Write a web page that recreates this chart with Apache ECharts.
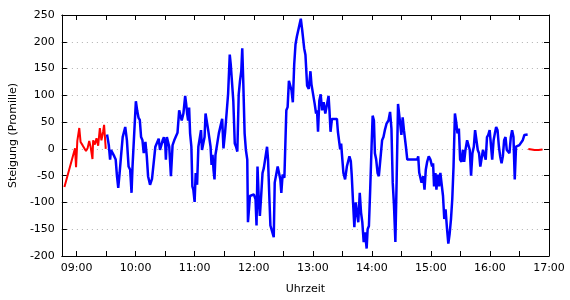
<!DOCTYPE html>
<html>
<head>
<meta charset="utf-8">
<script src="https://cdn.jsdelivr.net/npm/echarts@6/dist/echarts.min.js"></script>
<style>
  html, body { margin: 0; padding: 0; background: #fff; }
  #chart { width: 570px; height: 300px; }
</style>
</head>
<body>
<div id="chart"></div>
<script>
// Zeiten in Minuten seit Mitternacht, Werte in Promille
var red1Time = [527.6, 538.4, 539.4, 540.7, 542.7, 544.0, 546.0, 547.5, 549.5, 551.1, 552.8, 554.3, 556.1, 556.8, 558.5, 560.2, 561.9, 563.6, 565.2, 566.9, 567.9, 569.6]
var red1Value = [-71, 1, -34, 15, 39, 13, 7, 10, -4, 1, 15, 3, -19, 16, 8, 20, 6, 39, 16, 32, 45, 0]

var blueTime = [
  570.9, 572.7, 574.0, 575.0, 576.7, 578.3, 579.7, 581.0, 582.3, 583.7, 585.1, 586.8, 588.1, 589.4, 591.1, 592.8, 594.4, 595.8, 596.8, 597.9,
  599.2, 600.2, 601.5, 602.9, 604.2, 605.5, 606.9, 608.2, 609.9, 611.3, 612.6, 614.6, 616.6, 618.3, 620.0, 621.6, 623.4, 624.7, 626.1, 627.4,
  628.7, 630.1, 630.7, 631.7, 633.1, 634.1, 635.8, 637.5, 639.2, 640.8, 642.5, 644.2, 645.5, 646.8, 648.5, 650.3, 651.3, 652.3, 653.3, 654.3,
  655.3, 656.6, 657.6, 658.6, 659.9, 661.0, 662.4, 663.7, 665.0, 666.4, 667.4, 668.7, 670.0, 671.0, 672.4, 673.7, 675.1, 676.1, 677.1, 678.1,
  679.1, 680.1, 681.1, 682.8, 684.5, 686.1, 687.9, 689.2, 690.9, 692.6, 693.9, 695.6, 696.6, 697.9, 699.2, 700.7, 702.0, 703.3, 704.7, 706.0,
  707.3, 708.3, 709.3, 710.7, 712.0, 713.4, 714.1, 715.1, 716.1, 718.1, 720.1, 721.8, 722.8, 723.8, 725.2, 726.2, 727.5, 728.9, 730.2, 731.9,
  733.5, 734.5, 735.9, 736.9, 738.6, 740.3, 741.3, 743.0, 744.3, 745.6, 747.0, 748.0, 749.3, 751.1, 752.4, 753.1, 754.4, 755.7, 757.1, 758.4,
  759.7, 761.1, 762.4, 763.8, 765.2, 766.5, 767.8, 769.2, 770.2, 771.2, 772.5, 774.2, 775.9, 777.6, 778.6, 779.9, 781.9, 783.3, 784.3, 785.3,
  786.6, 788.0, 789.4, 791.0, 792.7, 794.4, 796.0, 797.0, 798.0, 799.4, 804.5, 805.5, 806.8, 807.8, 808.8, 809.5, 811.1, 812.8, 814.6, 815.9,
  817.2, 818.6, 819.6, 820.9, 822.2, 823.6, 824.9, 826.2, 827.7, 829.0, 830.3, 831.7, 833.0, 834.7, 835.7, 837.0, 838.3, 839.7, 840.8, 842.1,
  843.1, 844.4, 845.8, 847.1, 849.1, 850.4, 851.8, 853.2, 854.9, 856.9, 858.5, 859.9, 861.2, 862.5, 863.9, 865.2, 866.6, 868.6, 870.0, 871.3,
  872.6, 873.6, 874.6, 876.0, 886.1, 887.1, 888.1, 889.4, 890.5, 892.2, 893.5, 894.8, 896.2, 897.8, 899.5, 901.2, 902.2, 903.2, 904.6, 905.6,
  906.9, 908.3, 909.6, 910.9, 912.3, 913.6, 914.9, 916.4, 917.7, 919.0, 920.4, 921.7, 923.0, 924.4, 925.7, 927.0, 928.4, 929.7, 931.1, 932.5,
  933.8, 935.1, 936.8, 937.8, 939.5, 940.8, 942.2, 943.6, 944.9, 946.2, 947.6, 948.9, 950.2, 951.6, 952.9, 954.2, 955.7, 957.0, 958.3, 959.7,
  961.0, 962.3, 963.7, 965.0, 966.3, 967.7, 969.1, 970.4, 971.8, 973.1, 974.4, 975.8, 977.1, 978.4, 979.8, 981.2, 982.5, 983.9, 985.2, 986.5,
  987.9, 989.9, 991.5, 993.3, 995.0, 996.6, 998.3
]
var blueValue = [
  27, 7, -20, -2, -3, -14, -20, -51, -73, -45, -14, 22, 25, 41, 16, -33, -39, -82, -33, 7,
  4, 89, 72, 58, 54, 22, 16, -8, 13, -14, -51, -67, -56, -54, 4, 7, 19, -2, 7, 16,
  22, 7, -20, 22, 19, 4, -51, 7, 16, 15, 30, 72, 69, 53, 66, 99, 84, 66, 53, 77,
  29, 4, -70, -76, -99, -45, -67, 4, 1, 35, -2, -2, 22, 66, 69, 35, 36, 4, -30, -11,
  -39, -57, -11, -8, 29, 29, 56, 1, 32, 32, 102, 176, 158, 158, 90, 10, 4, -5, 102, 127,
  145, 188, 127, 29, -2, -20, -137, -113, -88, -87, -85, -94, -143, -33, -100, -125, -88, -45, -36, -33,
  4, -20, -94, -143, -143, -165, -63, -60, -33, -34, -57, -82, -48, -54, -51, 72, 78, 127, 124, 109,
  87, 158, 195, 210, 213, 232, 243, 222, 219, 188, 176, 118, 112, 145, 121, 124, 84, 66, 72, 32,
  90, 102, 72, 87, 66, 69, 99, 69, 32, 56, 56, 32, 35, -1, 10, -8, -45, -57, -33, -30,
  -14, -23, -51, -100, -146, -100, -119, -137, -82, -119, -137, -174, -156, -186, -150, -144, -76, 4, 62, 53,
  -8, -20, -45, -51, -53, 16, 22, 35, 47, 53, 69, 38, -63, -106, -174, -57, 84, 84, 26, 59,
  35, 38, 4, -20, -20, -14, -44, -45, -63, -51, -76, -39, -24, -14, -20, -33, -27, -70, -45, -76,
  -48, -70, -45, -45, -88, -131, -113, -150, -177, -159, -131, -94, -33, 66, 50, 29, 38, -20, -24, -2,
  -24, -2, 16, 19, -2, -50, -8, 4, 35, 38, -2, -8, -33, -36, -2, 1, -20, 22, 26, 35,
  35, -20, 16, 29, 41, 35, 4, -14, -27, -14, 16, 22, -2, -2, -8, 22, 35, 22, -57, 4,
  7, 7, 10, 16, 26, 27, 27
]

var red2Time = [999.0, 1001.0, 1002.3, 1004.0, 1005.3, 1007.3, 1009.3, 1011.3, 1013.4]
var red2Value = [0, -1, -1, -1, -2, -1, -2, -1, -1]

var tickMinutes = [540, 570, 600, 630, 660, 690, 720, 750, 780, 810, 840, 870, 900, 930, 960, 990, 1020]
var labelMinutes = [540, 600, 660, 720, 780, 840, 900, 960, 1020]

function pairs (times, values) {
  return times.map(function (t, i) { return [t, values[i]] })
}
function hhmm (m) {
  var h = Math.floor(m / 60)
  var mm = Math.round(m % 60)
  return (h < 10 ? '0' + h : h) + ':' + (mm < 10 ? '0' + mm : mm)
}

var chart = echarts.init(document.getElementById('chart'), null, { renderer: 'canvas' })
var font = 'DejaVu Sans'
var axisLine = { show: true, onZero: false, lineStyle: { color: '#000', width: 1 } }
var tickStyle = { color: '#000', width: 1 }

var xBase = {
  type: 'value',
  min: 525,
  max: 1020,
  interval: 15,
  axisLine: axisLine,
  splitLine: { show: false }
}

var option = {
  animation: false,
  grid: { left: 58, right: 21, top: 15, bottom: 41 },
  xAxis: [
    Object.assign({}, xBase, {
      position: 'bottom',
      name: 'Uhrzeit',
      nameLocation: 'middle',
      nameGap: 28,
      nameTextStyle: { fontFamily: font, fontSize: 11, color: '#000' },
      axisTick: { show: true, inside: true, length: 5, customValues: tickMinutes, lineStyle: tickStyle },
      axisLabel: { customValues: labelMinutes, formatter: hhmm, fontFamily: font, fontSize: 11, color: '#000', margin: 7 }
    }),
    Object.assign({}, xBase, {
      position: 'top',
      axisTick: { show: true, inside: true, length: 5, customValues: tickMinutes, lineStyle: tickStyle },
      axisLabel: { show: false }
    })
  ],
  yAxis: [
    {
      type: 'value',
      position: 'left',
      min: -200,
      max: 250,
      interval: 50,
      name: 'Steigung (Promille)',
      nameLocation: 'middle',
      nameGap: 41,
      nameTextStyle: { fontFamily: font, fontSize: 11, color: '#000' },
      axisLine: axisLine,
      axisTick: { show: true, inside: true, length: 5, lineStyle: tickStyle },
      axisLabel: { fontFamily: font, fontSize: 11, color: '#000', margin: 7 },
      splitLine: { show: true, lineStyle: { color: '#b0b0b0', type: [1, 4], width: 1 } }
    },
    {
      type: 'value',
      position: 'right',
      min: -200,
      max: 250,
      interval: 50,
      axisLine: axisLine,
      axisTick: { show: true, inside: true, length: 5, lineStyle: tickStyle },
      axisLabel: { show: false },
      splitLine: { show: false }
    }
  ],
  series: [
    {
      type: 'line',
      data: pairs(red1Time, red1Value),
      showSymbol: false,
      lineStyle: { color: '#ff0000', width: 2 }
    },
    {
      type: 'line',
      data: pairs(blueTime, blueValue),
      showSymbol: false,
      lineStyle: { color: '#0000ff', width: 2.5 }
    },
    {
      type: 'line',
      data: pairs(red2Time, red2Value),
      showSymbol: false,
      lineStyle: { color: '#ff0000', width: 2 }
    }
  ]
}
chart.setOption(option)
</script>
</body>
</html>
